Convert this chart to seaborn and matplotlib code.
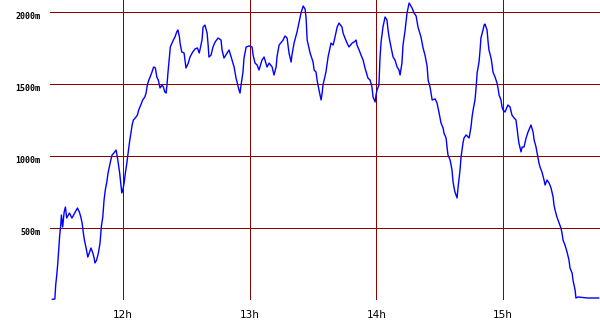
import matplotlib
matplotlib.use("Agg")
import matplotlib.pyplot as plt
import matplotlib.transforms as mtransforms
import seaborn as sns
import pandas as pd

# time in minutes after 11:00
minutes = [26.4, 27.7, 28.1, 28.6, 29.1, 29.5, 30.0, 30.5, 30.8, 31.4, 32.1, 32.7, 33.3, 34.6, 35.8, 37.1,
           38.4, 39.3, 40.0, 40.6, 41.2, 41.7, 42.5, 43.3, 44.0, 44.8, 45.7, 46.3, 46.7, 47.5, 48.3, 49.1,
           49.7, 50.4, 51.0, 51.6, 52.3, 52.9, 53.5, 54.2, 54.8, 55.7, 56.7, 57.3, 58.0, 58.4, 58.9, 59.4,
           59.9, 60.5, 61.1, 61.8, 62.4, 63.0, 63.7, 64.3, 64.9, 65.8, 66.8, 67.4, 68.4, 69.3, 70.3, 70.9,
           71.5, 72.2, 72.8, 73.7, 74.5, 75.3, 76.0, 76.7, 77.5, 78.5, 79.1, 79.8, 80.4, 80.8, 81.3, 81.9,
           82.4, 83.2, 83.8, 84.6, 85.4, 86.0, 86.7, 87.0, 87.8, 88.9, 89.8, 90.9, 91.7, 93.0, 94.1, 95.2,
           96.1, 97.4, 97.9, 98.8, 99.8, 100.3, 100.7, 101.7, 102.6, 103.6, 105.0, 106.4, 106.9, 107.8, 109.3, 110.2,
           111.6, 112.6, 113.5, 114.0, 114.9, 115.4, 115.9, 116.8, 117.3, 118.3, 119.7, 121.1, 121.6, 122.5, 123.5, 124.4,
           125.8, 126.8, 128.2, 129.2, 130.6, 131.5, 132.5, 132.9, 133.9, 135.8, 136.7, 137.7, 138.6, 139.6, 140.0, 141.0,
           142.4, 143.4, 144.3, 145.3, 146.2, 146.7, 147.2, 148.6, 150.0, 150.5, 151.4, 151.9, 152.8, 153.8, 154.3, 154.7,
           156.1, 157.1, 158.5, 159.5, 160.4, 161.4, 162.3, 163.7, 164.2, 165.1, 166.1, 167.0, 168.5, 169.4, 170.4, 170.8,
           171.8, 172.7, 173.7, 174.6, 176.0, 177.0, 177.9, 178.4, 179.4, 179.8, 180.3, 181.2, 181.7, 182.2, 183.1, 184.1,
           185.0, 185.5, 186.0, 186.9, 187.9, 188.8, 189.8, 190.7, 191.2, 192.1, 192.6, 193.6, 194.5, 195.5, 196.9, 197.8,
           198.8, 199.7, 201.1, 202.1, 203.0, 204.0, 204.5, 205.4, 206.4, 207.8, 208.7, 209.7, 210.6, 211.6, 212.0, 213.0,
           213.5, 213.9, 214.9, 215.8, 216.3, 216.8, 217.2, 218.2, 218.7, 219.6, 220.1, 221.0, 221.5, 222.5, 223.4, 223.9,
           224.8, 225.3, 225.8, 226.7, 227.2, 227.7, 228.6, 229.1, 229.5, 230.5, 231.0, 231.4, 232.4, 232.9, 233.3, 234.3,
           234.8, 235.2, 236.2, 237.1, 237.6, 238.1, 239.0, 239.5, 240.0, 240.9, 241.9, 242.3, 243.3, 244.2, 245.2, 246.1,
           246.6, 247.1, 247.5, 248.5, 249.0, 249.9, 250.9, 251.8, 252.8, 253.2, 254.2, 254.7, 255.6, 256.1, 257.0, 257.5,
           258.4, 259.4, 259.9, 260.8, 261.8, 262.7, 263.7, 264.1, 264.6, 265.5, 266.5, 267.4, 267.9, 268.4, 269.3, 270.3,
           271.2, 271.7, 272.7, 273.1, 274.1, 274.5, 275.5, 279.8, 285.4]

altitude = [5, 7, 104, 173, 257, 347, 451, 521, 590, 507, 611, 646, 569, 604, 569, 604,
            639, 611, 576, 535, 465, 416, 361, 298, 326, 361, 326, 291, 257, 278, 326, 396,
            507, 576, 694, 764, 819, 882, 923, 972, 1007, 1021, 1041, 993, 923, 882, 812, 743,
            764, 812, 882, 951, 1021, 1090, 1159, 1215, 1250, 1264, 1284, 1319, 1354, 1389, 1409, 1437,
            1493, 1527, 1548, 1583, 1618, 1611, 1548, 1527, 1472, 1493, 1479, 1444, 1437, 1493, 1583, 1680,
            1757, 1784, 1805, 1826, 1861, 1875, 1826, 1784, 1722, 1715, 1611, 1645, 1687, 1722, 1743, 1750,
            1715, 1805, 1895, 1909, 1854, 1770, 1687, 1701, 1757, 1791, 1819, 1805, 1736, 1680, 1715, 1736,
            1666, 1618, 1541, 1514, 1458, 1437, 1493, 1583, 1680, 1757, 1764, 1757, 1701, 1645, 1632, 1597,
            1666, 1687, 1618, 1645, 1618, 1562, 1618, 1687, 1770, 1805, 1833, 1819, 1715, 1652, 1701, 1784,
            1861, 1930, 1993, 2041, 2021, 1958, 1805, 1715, 1652, 1597, 1583, 1527, 1458, 1389, 1437, 1493,
            1583, 1687, 1784, 1770, 1826, 1895, 1923, 1895, 1854, 1819, 1784, 1757, 1784, 1791, 1805, 1770,
            1736, 1701, 1666, 1611, 1541, 1527, 1479, 1409, 1375, 1423, 1458, 1493, 1680, 1791, 1895, 1965,
            1944, 1875, 1826, 1757, 1687, 1666, 1618, 1597, 1562, 1645, 1770, 1875, 1993, 2062, 2027, 1993,
            1972, 1895, 1826, 1750, 1701, 1625, 1527, 1479, 1389, 1396, 1368, 1298, 1229, 1194, 1159, 1125,
            1055, 1007, 972, 903, 819, 778, 750, 708, 785, 903, 993, 1090, 1125, 1146, 1132, 1125,
            1201, 1271, 1319, 1389, 1472, 1576, 1652, 1736, 1819, 1875, 1909, 1916, 1875, 1791, 1736, 1680,
            1632, 1583, 1548, 1507, 1472, 1423, 1389, 1340, 1319, 1305, 1340, 1354, 1340, 1284, 1264, 1250,
            1194, 1132, 1090, 1028, 1062, 1062, 1125, 1166, 1201, 1215, 1166, 1111, 1062, 1021, 951, 923,
            889, 833, 798, 833, 812, 778, 715, 660, 625, 576, 535, 500, 465, 416, 382, 333,
            278, 222, 187, 139, 69, 14, 21, 14, 14]

x_ticks = [60, 120, 180, 240]
x_labels = ["12h", "13h", "14h", "15h"]
y_ticks = [500, 1000, 1500, 2000]
y_labels = ["500m", "1000m", "1500m", "2000m"]

df = pd.DataFrame({"minutes": minutes, "altitude": altitude})

sns.set_style("white")
fig = plt.figure(figsize=(6.0, 3.3), dpi=100)
ax = fig.add_axes([50 / 600, 30 / 330, 550 / 600, 300 / 330])

grid_color = "#880000"
for v in y_ticks:
    ax.axhline(v, color=grid_color, lw=0.72, zorder=1, antialiased=False)
for v in x_ticks:
    ax.axvline(v, color=grid_color, lw=0.72, zorder=1, antialiased=False)

sns.lineplot(data=df, x="minutes", y="altitude", ax=ax, color="#0000ff",
             lw=1.0, sort=False, estimator=None, zorder=3)

ax.set_xlim(25.4, 285.9)
ax.set_ylim(0, 2083)
ax.set_xticks(x_ticks)
ax.set_xticklabels(x_labels, fontsize=7.5, family="DejaVu Sans", color="black")
ax.set_yticks(y_ticks)
ax.set_yticklabels(y_labels, fontsize=6, family="DejaVu Sans Mono", fontweight="bold", color="black")
ax.tick_params(axis="both", length=0)
ax.tick_params(axis="y", pad=7.2)
ax.tick_params(axis="x", pad=7.0)
offset = mtransforms.ScaledTranslation(0, -4 / 100, fig.dpi_scale_trans)
for lab in ax.get_yticklabels():
    lab.set_transform(lab.get_transform() + offset)
ax.set_xlabel("")
ax.set_ylabel("")
for s in ax.spines.values():
    s.set_visible(False)

fig.savefig("out.png", dpi=100)
